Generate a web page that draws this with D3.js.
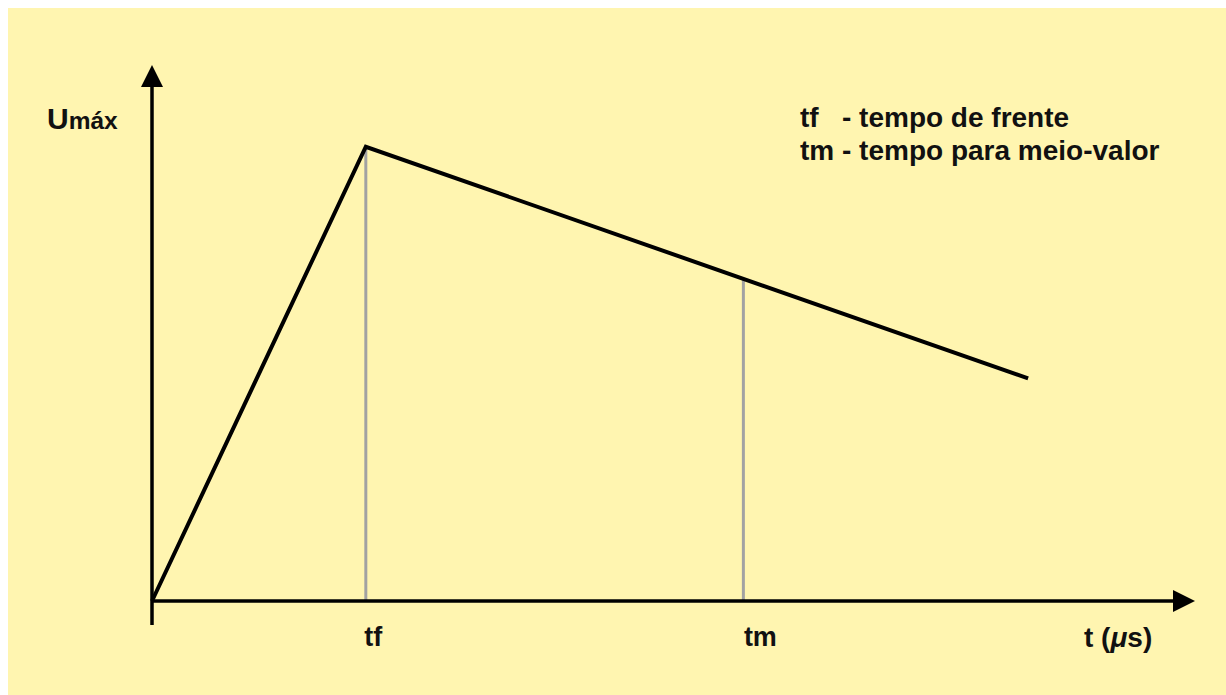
<!DOCTYPE html>
<html>
<head>
<meta charset="utf-8">
<script src="https://cdn.jsdelivr.net/npm/d3@7"></script>
<style>
  html, body { margin: 0; padding: 0; background: #ffffff; }
  svg { display: block; }
  text { font-family: "Liberation Sans", Arial, sans-serif; font-weight: bold; fill: #111; }
</style>
</head>
<body>
<svg id="chart" width="1226" height="695"></svg>
<script>
// ---- data ----
const waveT = [0, 2.05, 8.4];          // time (arbitrary µs units)
const waveU = [0, 1.0, 0.49];          // voltage relative to Umáx
const markerLabels = ["tf", "tm"];
const markerT = [2.05, 5.67];
const markerU = [1.0, 0.71];
const legendLines = ["tf   - tempo de frente", "tm - tempo para meio-valor"];
const yLabelMain = "U";
const yLabelSub = "máx";
const xLabel = ["t (", "μ", "s)"];

// ---- layout ----
const W = 1226, H = 695;
const svg = d3.select("#chart");
svg.append("rect").attr("x", 8).attr("y", 8).attr("width", W - 8).attr("height", H - 8).attr("fill", "#FFF5B0");

const x = d3.scaleLinear().domain([0, 10]).range([152, 1195]);
const y = d3.scaleLinear().domain([0, 1.18]).range([601, 65]);

// marker verticals (grey)
svg.append("g").selectAll("line").data(markerT).join("line")
  .attr("x1", (d) => x(d)).attr("x2", (d) => x(d))
  .attr("y1", y(0)).attr("y2", (d, i) => y(markerU[i]))
  .attr("stroke", "#A2A2A2").attr("stroke-width", 3);

// axes lines
const axisColor = "#000";
svg.append("line").attr("x1", x(0)).attr("x2", x(0)).attr("y1", 625).attr("y2", y(1.18) + 18)
  .attr("stroke", axisColor).attr("stroke-width", 3.5);
svg.append("line").attr("x1", x(0)).attr("x2", x(10) - 18).attr("y1", y(0)).attr("y2", y(0))
  .attr("stroke", axisColor).attr("stroke-width", 3.5);
// arrowheads
const yt = y(1.18), xt = x(10);
svg.append("path").attr("d", `M${x(0)},${yt} L${x(0) - 11},${yt + 22} L${x(0) + 11},${yt + 22} Z`).attr("fill", axisColor);
svg.append("path").attr("d", `M${xt},${y(0)} L${xt - 22},${y(0) - 11} L${xt - 22},${y(0) + 11} Z`).attr("fill", axisColor);

// tick labels via d3 axis
const xAxis = d3.axisBottom(x).tickValues(markerT).tickFormat((d, i) => markerLabels[i]).tickSize(0).tickPadding(0);
const gx = svg.append("g").attr("transform", `translate(0, 626)`).call(xAxis);
gx.select(".domain").remove();
gx.selectAll("text").attr("font-size", 27).attr("font-family", "Liberation Sans, Arial, sans-serif")
  .attr("font-weight", "bold").attr("fill", "#111").attr("text-anchor", "start").attr("dy", "0.75em")
  .attr("dx", (d, i) => i === 0 ? -2 : 0);

// waveform
const line = d3.line().x((d) => x(d[0])).y((d) => y(d[1]));
svg.append("path").datum(waveT.map((t, i) => [t, waveU[i]]))
  .attr("d", line).attr("fill", "none").attr("stroke", "#000").attr("stroke-width", 4)
  .attr("stroke-linejoin", "miter").attr("stroke-linecap", "butt");

// y label
const yl = svg.append("text").attr("x", 47).attr("y", 129);
yl.append("tspan").attr("font-size", 30).text(yLabelMain);
yl.append("tspan").attr("font-size", 24.5).text(yLabelSub);

// x label
const xl = svg.append("text").attr("x", 1084).attr("y", 647).attr("font-size", 28);
xl.append("tspan").text(xLabel[0]);
xl.append("tspan").attr("font-style", "italic").text(xLabel[1]);
xl.append("tspan").text(xLabel[2]);

// legend
svg.append("g").selectAll("text").data(legendLines).join("text")
  .attr("x", 800).attr("y", (d, i) => 127 + i * 33)
  .attr("font-size", 28).attr("xml:space", "preserve").style("white-space", "pre")
  .text((d) => d);
</script>
</body>
</html>
